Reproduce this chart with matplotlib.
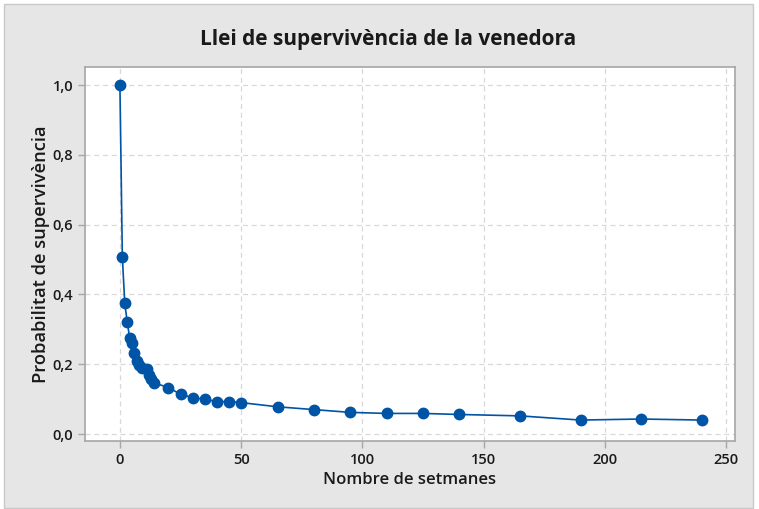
import matplotlib.pyplot as plt
from matplotlib.patches import Rectangle
from matplotlib.ticker import FuncFormatter, MultipleLocator

# setmanes i probabilitat de supervivencia
setmanes = [0, 1, 2, 3, 4, 5, 6, 7, 8, 9, 11, 12, 13, 14, 20, 25, 30, 35, 40, 45, 50,
            65, 80, 95, 110, 125, 140, 165, 190, 215, 240]
probabilitat = [1.0, 0.508, 0.374, 0.322, 0.276, 0.260, 0.231, 0.210, 0.198, 0.189, 0.185,
                0.169, 0.157, 0.147, 0.133, 0.114, 0.104, 0.100, 0.093, 0.093, 0.090,
                0.078, 0.070, 0.062, 0.059, 0.059, 0.056, 0.052, 0.040, 0.043, 0.040]

titol = 'Llei de supervivència de la venedora'
etiqueta_x = 'Nombre de setmanes'
etiqueta_y = 'Probabilitat de supervivència'

plt.rcParams['font.family'] = ['Open Sans', 'DejaVu Sans']
blau = '#0054A6'

fig = plt.figure(figsize=(7.59, 5.09), dpi=100, facecolor='white')
fig.patches.append(Rectangle((4 / 759, 1 / 509), 749 / 759, 504 / 509,
                             transform=fig.transFigure, facecolor='#E6E6E6',
                             edgecolor='#C8C8C8', linewidth=1, zorder=-5))

ax = fig.add_axes([85 / 759, 1 - 441 / 509, 650 / 759, 374 / 509])
ax.plot(setmanes, probabilitat, color=blau, linewidth=1.2, marker='o',
        markersize=7.5, markerfacecolor=blau, markeredgecolor=blau, zorder=3)

ax.set_xlim(-14.4, 253.7)
ax.set_ylim(-0.02, 1.0516)
ax.xaxis.set_major_locator(MultipleLocator(50))
ax.yaxis.set_major_locator(MultipleLocator(0.2))
ax.yaxis.set_major_formatter(FuncFormatter(lambda v, p: f'{v:.1f}'.replace('.', ',')))

ax.grid(True, linestyle=(0, (4, 3)), color='#D8D8D8', linewidth=0.9)
ax.set_axisbelow(True)
for s in ax.spines.values():
    s.set_color('#A6A6A6')
    s.set_linewidth(1.2)
ax.tick_params(direction='out', length=5, width=1, color='#A6A6A6',
               labelsize=10.5, labelcolor='#1a1a1a')
for lab in ax.get_xticklabels() + ax.get_yticklabels():
    lab.set_fontweight('semibold')

ax.set_xlabel(etiqueta_x, fontsize=12, fontweight='semibold', color='#1a1a1a', labelpad=4)
ax.set_ylabel(etiqueta_y, fontsize=13.2, fontweight='semibold', color='#1a1a1a', labelpad=2)
fig.text(388 / 759, 1 - 40 / 509, titol, ha='center', va='center', fontsize=15,
         fontweight='bold', color='#1a1a1a')

fig.savefig('out.png', dpi=100, facecolor=fig.get_facecolor())
